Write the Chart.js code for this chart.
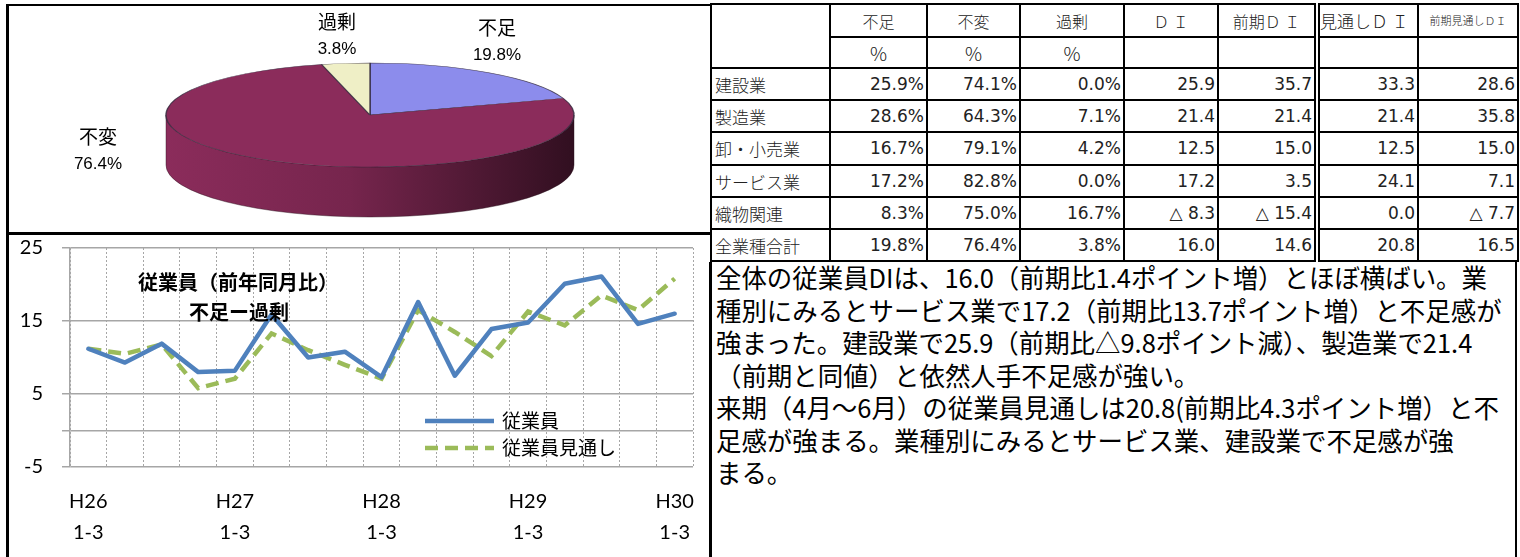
<!DOCTYPE html>
<html>
<head>
<meta charset="utf-8">
<script src="https://cdn.jsdelivr.net/npm/chart.js@4.4.0/dist/chart.umd.min.js"></script>
<style>
  body { margin: 0; width: 1520px; height: 557px; overflow: hidden; background: #fff; position: relative; font-family: 'Noto Sans CJK JP', sans-serif; }
  .line { position: absolute; background: #000; }
  #pieBox { position: absolute; left: 9px; top: 6px; width: 699px; height: 226px; }
  #lineBox { position: absolute; left: 9px; top: 236px; width: 700px; height: 321px; }
  #tbl { position: absolute; left: 710px; top: 3px; border-collapse: collapse; table-layout: fixed; width: 807px; }
  #tbl td { border: 2px solid #000; padding: 0 2px; font-size: 17px; font-family: 'DejaVu Sans', 'Noto Sans CJK JP', sans-serif; white-space: nowrap; overflow: hidden; line-height: 1; color: #222; }
  #tbl td.c { text-align: center; font-family: 'Noto Sans CJK JP', sans-serif; font-weight: 300; }
  #tbl td.r { text-align: right; }
  #tbl td.l { text-align: left; padding-left: 3px; font-size: 17px; font-family: 'Noto Sans CJK JP', sans-serif; font-weight: 300; }
  #tbl td.dbl { border-right: 6px double #000; }
  #txt { position: absolute; left: 716px; top: 261px; transform-origin: 0 0; font-size: 26px; line-height: 32.5px; color: #000; }
  #txt div { white-space: nowrap; }
</style>
</head>
<body>
<div class="line" style="left:6px;top:4px;width:3px;height:553px"></div>
<div class="line" style="left:6px;top:4px;width:705px;height:2px"></div>
<div class="line" style="left:6px;top:232px;width:705px;height:3px"></div>
<div class="line" style="left:709px;top:262px;width:3px;height:295px"></div>
<div class="line" style="left:1515px;top:262px;width:2px;height:295px"></div>
<div id="pieBox"><canvas id="pie"></canvas></div>
<div id="lineBox"><canvas id="lineChart"></canvas></div>
<table id="tbl"></table>
<div id="txt"></div>
<script>
// pie
var pieLabels = ['不足', '不変', '過剰'];
var pieValues = [19.8, 76.4, 3.8];
var pieColors = ['#8C8CEC', '#8B2C5B', '#EFEFC6'];

// line chart
var categories = ['H26 1-3', 'H26 4-6', 'H26 7-9', 'H26 10-12',
  'H27 1-3', 'H27 4-6', 'H27 7-9', 'H27 10-12',
  'H28 1-3', 'H28 4-6', 'H28 7-9', 'H28 10-12',
  'H29 1-3', 'H29 4-6', 'H29 7-9', 'H29 10-12', 'H30 1-3'];
var employees = [11.2, 9.3, 11.9, 8.0, 8.2, 15.9, 10.0, 10.8, 7.3, 17.6, 7.5, 13.9, 14.8, 20.1, 21.1, 14.6, 16.0];
var outlook = [11.2, 10.5, 11.8, 5.8, 7.1, 13.3, 11.0, 9.0, 7.1, 16.5, 13.5, 10.2, 16.3, 14.4, 18.5, 16.5, 20.8];
var yTicks = [-5, 5, 15, 25];

// table
var industries = ['建設業', '製造業', '卸・小売業', 'サービス業', '織物関連', '全業種合計'];
var shortage = [25.9, 28.6, 16.7, 17.2, 8.3, 19.8];
var unchanged = [74.1, 64.3, 79.1, 82.8, 75.0, 76.4];
var surplus = [0.0, 7.1, 4.2, 0.0, 16.7, 3.8];
var di = [25.9, 21.4, 12.5, 17.2, -8.3, 16.0];
var prevDi = [35.7, 21.4, 15.0, 3.5, -15.4, 14.6];
var outlookDi = [33.3, 21.4, 12.5, 24.1, 0.0, 20.8];
var prevOutlookDi = [28.6, 35.8, 15.0, 7.1, -7.7, 16.5];

var comment = [
  '全体の従業員DIは、16.0（前期比1.4ポイント増）とほぼ横ばい。業',
  '種別にみるとサービス業で17.2（前期比13.7ポイント増）と不足感が',
  '強まった。建設業で25.9（前期比△9.8ポイント減）、製造業で21.4',
  '（前期と同値）と依然人手不足感が強い。',
  '来期（4月～6月）の従業員見通しは20.8(前期比4.3ポイント増）と不',
  '足感が強まる。業種別にみるとサービス業、建設業で不足感が強',
  'まる。'
];

// ---- 3D pie ----
var RX = 204, RY = 52, DEPTH = 50;
var labelPos = [[127, -87], [-272, 22], [-33, -93]];

function shade(hex, f) {
  var n = parseInt(hex.slice(1), 16);
  var r = Math.round(((n >> 16) & 255) * f), g = Math.round(((n >> 8) & 255) * f), b = Math.round((n & 255) * f);
  return 'rgb(' + r + ',' + g + ',' + b + ')';
}

var pie3d = {
  id: 'pie3d',
  beforeDatasetsDraw: function(chart) {
    var meta = chart.getDatasetMeta(0);
    var a0 = meta.data[0];
    var cx = a0.x, cy = a0.y, r = a0.outerRadius;
    var ctx = chart.ctx;
    meta.data.forEach(function(arc, i) {
      [0, -2 * Math.PI, 2 * Math.PI].forEach(function(shift) {
        var a = Math.max(arc.startAngle + shift, 0), b = Math.min(arc.endAngle + shift, Math.PI);
        if (b <= a) return;
        var col = pieColors[i];
        var grd = ctx.createLinearGradient(cx - RX, 0, cx + RX, 0);
        grd.addColorStop(0, shade(col, 1.0));
        grd.addColorStop(0.45, shade(col, 0.85));
        grd.addColorStop(1, shade(col, 0.35));
        ctx.save();
        ctx.beginPath();
        ctx.moveTo(cx + RX * Math.cos(a), cy + RY * Math.sin(a));
        ctx.ellipse(cx, cy, RX, RY, 0, a, b);
        ctx.lineTo(cx + RX * Math.cos(b), cy + RY * Math.sin(b) + DEPTH);
        ctx.ellipse(cx, cy + DEPTH, RX, RY, 0, b, a, true);
        ctx.closePath();
        ctx.fillStyle = grd;
        ctx.fill();
        ctx.strokeStyle = 'rgba(40,20,30,0.6)';
        ctx.lineWidth = 0.7;
        ctx.stroke();
        ctx.restore();
      });
    });
    ctx.save();
    ctx.translate(cx, cy);
    ctx.scale(RX / r, RY / r);
    ctx.translate(-cx, -cy);
  },
  afterDatasetsDraw: function(chart) {
    var ctx = chart.ctx;
    ctx.restore();
    var a0 = chart.getDatasetMeta(0).data[0];
    ctx.save();
    ctx.fillStyle = '#000';
    ctx.textAlign = 'center';
    ctx.textBaseline = 'middle';
    chart.data.labels.forEach(function(lab, i) {
      var x = a0.x + labelPos[i][0], y = a0.y + labelPos[i][1];
      ctx.font = '19px "Noto Sans CJK JP"';
      ctx.fillText(lab, x, y);
      ctx.font = '17px "Liberation Sans Narrow", "Liberation Sans"';
      ctx.fillText(chart.data.datasets[0].data[i].toFixed(1) + '%', x, y + 27);
    });
    ctx.restore();
  }
};

new Chart(document.getElementById('pie'), {
  type: 'pie',
  data: {
    labels: pieLabels,
    datasets: [{ data: pieValues, backgroundColor: pieColors, borderColor: 'rgba(50,40,60,0.8)', borderWidth: 0.8 }]
  },
  options: {
    responsive: true,
    maintainAspectRatio: false,
    animation: false,
    layout: { padding: { left: 23, right: 0, top: 0, bottom: 8 } },
    plugins: { legend: { display: false }, tooltip: { enabled: false } }
  },
  plugins: [pie3d]
});

// ---- line chart ----
var insideText = {
  id: 'insideText',
  afterDatasetsDraw: function(chart) {
    var ctx = chart.ctx;
    ctx.save();
    ctx.fillStyle = '#000';
    ctx.textAlign = 'center';
    ctx.textBaseline = 'middle';
    ctx.font = 'bold 20px "Noto Sans CJK JP"';
    ctx.fillText('従業員（前年同月比）', 229, 46);
    ctx.fillText('不足ー過剰', 230, 76);
    // legend
    ctx.textAlign = 'left';
    ctx.font = '19px "Noto Sans CJK JP"';
    chart.data.datasets.forEach(function(ds, i) {
      var y = 185 + i * 27;
      ctx.beginPath();
      ctx.setLineDash(ds.borderDash || []);
      ctx.strokeStyle = ds.borderColor;
      ctx.lineWidth = ds.borderWidth;
      ctx.moveTo(416, y);
      ctx.lineTo(485, y);
      ctx.stroke();
      ctx.setLineDash([]);
      ctx.fillText(ds.label, 493, y);
    });
    ctx.restore();
  }
};

new Chart(document.getElementById('lineChart'), {
  type: 'line',
  data: {
    labels: categories,
    datasets: [
      { label: '従業員', data: employees, borderColor: '#4F81BD', borderWidth: 4.5, pointRadius: 0, tension: 0, borderCapStyle: 'round', borderJoinStyle: 'round' },
      { label: '従業員見通し', data: outlook, borderColor: '#9BBB59', borderWidth: 4.5, borderDash: [13, 7], pointRadius: 0, tension: 0 }
    ]
  },
  options: {
    responsive: true,
    maintainAspectRatio: false,
    animation: false,
    layout: { padding: { top: 12, right: 16, left: 0, bottom: 0 } },
    plugins: { legend: { display: false }, tooltip: { enabled: false } },
    scales: {
      x: {
        offset: true,
        grid: { offset: true, color: '#A6A6A6', lineWidth: 1, drawTicks: false },
        border: { display: false, dash: [2, 2] },
        ticks: {
          autoSkip: false, maxRotation: 0, padding: 19, color: '#000',
          font: { family: 'Lato', size: 20, lineHeight: 1.55 },
          callback: function(v, i) {
            var c = categories[i].split(' ');
            return c[1] === '1-3' ? [c[0], c[1]] : '';
          }
        },
        afterFit: function(s) { s.height = 90; s.paddingLeft = 0; s.paddingRight = 0; }
      },
      y: {
        min: -5, max: 25,
        afterBuildTicks: function(s) { s.ticks = [-5, 0, 5, 15, 25].map(function(v) { return { value: v }; }); },
        grid: { color: '#A6A6A6', lineWidth: 1.5, tickLength: 8 },
        border: { color: '#A6A6A6', width: 1.5 },
        ticks: {
          padding: 19, color: '#000',
          font: { family: 'Lato', size: 20 },
          callback: function(v) { return yTicks.indexOf(v) >= 0 ? v : ''; }
        },
        afterFit: function(s) { s.width = 61; s.paddingTop = 0; s.paddingBottom = 0; }
      }
    }
  },
  plugins: [insideText]
});

// ---- table ----
function pct(v) { return v.toFixed(1) + '%'; }
function num(v) { return v < 0 ? '△ ' + Math.abs(v).toFixed(1) : v.toFixed(1); }
var widths = [119, 97, 93, 104, 94, 99, 101, 100];
var rowH = [33, 31, 32, 32, 33, 32, 32, 32];
var html = '<colgroup>' + widths.map(function(w) { return '<col style="width:' + w + 'px">'; }).join('') + '</colgroup>';
html += '<tr style="height:' + rowH[0] + 'px"><td rowspan="2"></td><td class="c" style="font-size:16px">不足</td><td class="c" style="font-size:16px">不変</td><td class="c" style="font-size:16px">過剰</td>' +
  '<td class="c" style="font-size:16px">Ｄ Ｉ</td><td class="c dbl" style="font-size:16px">前期Ｄ Ｉ</td><td class="l" style="font-size:17px;padding-left:0">見通しＤ Ｉ</td><td class="c" style="font-size:11px">前期見通しＤＩ</td></tr>';
html += '<tr style="height:' + rowH[1] + 'px"><td class="c" style="font-size:19px">%</td><td class="c" style="font-size:19px">%</td><td class="c" style="font-size:19px">%</td><td></td><td class="dbl"></td><td></td><td></td></tr>';
industries.forEach(function(name, i) {
  html += '<tr style="height:' + rowH[i + 2] + 'px"><td class="l">' + name + '</td>' +
    '<td class="r">' + pct(shortage[i]) + '</td><td class="r">' + pct(unchanged[i]) + '</td><td class="r">' + pct(surplus[i]) + '</td>' +
    '<td class="r">' + num(di[i]) + '</td><td class="r dbl">' + num(prevDi[i]) + '</td>' +
    '<td class="r">' + num(outlookDi[i]) + '</td><td class="r">' + num(prevOutlookDi[i]) + '</td></tr>';
});
document.getElementById('tbl').innerHTML = html;

// ---- comment text ----
var txt = document.getElementById('txt');
txt.innerHTML = comment.map(function(s) { return '<div><span>' + s + '</span></div>'; }).join('');
var w0 = txt.querySelector('span').getBoundingClientRect().width;
txt.style.transform = 'scaleX(' + (771 / w0) + ')';
</script>
</body>
</html>
